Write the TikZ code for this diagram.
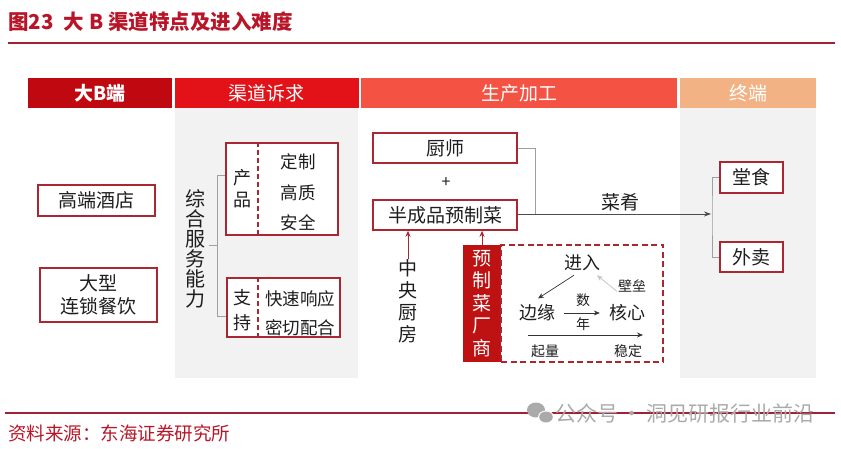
\documentclass[tikz,border=0pt]{standalone}
\usepackage{fontspec}
\setmainfont{Noto Sans CJK SC}
\usetikzlibrary{arrows.meta,calc}
\definecolor{hdrA}{RGB}{192,8,16}
\definecolor{hdrB}{RGB}{226,18,24}
\definecolor{hdrC}{RGB}{244,82,66}
\definecolor{hdrD}{RGB}{242,178,132}
\definecolor{boxred}{RGB}{170,38,48}
\definecolor{bggray}{RGB}{242,242,242}
\definecolor{titlered}{RGB}{184,22,40}
\definecolor{rulered}{RGB}{160,32,52}
\definecolor{makerred}{RGB}{190,18,18}
\definecolor{wmgray}{RGB}{170,170,170}
\definecolor{txt}{RGB}{30,30,30}
\newcommand{\fs}[1]{\fontsize{#1}{#1}\selectfont}
\tikzset{
  hdr/.style={minimum height=30pt, inner sep=0, text=white, font=\fs{19}},
  rbox/.style={draw=boxred, line width=1.6pt, fill=white, inner sep=0, text=txt, font=\fs{19}},
  vtext/.style={align=center, inner sep=0, text=txt, font=\fontsize{#1}{#1}\selectfont},
  gline/.style={draw=gray!75, line width=0.7pt},
  redarrow/.style={draw=boxred, line width=0.9pt, -{Stealth[length=6pt,width=5pt]}},
  blkarrow/.style={draw=black!80, line width=0.7pt, -{Stealth[length=6pt,width=5pt]}},
  lbl/.style={inner sep=1pt, text=txt, font=\fs{#1}}
}
\begin{document}
\begin{tikzpicture}[x=1pt,y=-1pt]
\useasboundingbox (0,0) rectangle (841,449);
% title
\node[anchor=west, inner sep=0, text=titlered, font=\bfseries\fs{20.5}] (title) at (8,22) {图23\hspace{0.5em}大 B 渠道特点及进入难度};
\draw[rulered, line width=1.6pt] (8,43) -- (835,43);
% column backgrounds
\fill[bggray] (175,108) rectangle (358,378);
\fill[bggray] (680,108) rectangle (816,378);
% headers
\node[hdr, fill=hdrA, minimum width=144pt, font=\bfseries\fs{19}] (h1) at (100,93) {大B端};
\node[hdr, fill=hdrB, minimum width=184pt] (h2) at (266.5,93) {渠道诉求};
\node[hdr, fill=hdrC, minimum width=316pt] (h3) at (519,93) {生产加工};
\node[hdr, fill=hdrD, minimum width=136pt] (h4) at (748,93) {终端};
% big B
\node[rbox, minimum width=117pt, minimum height=31pt] (hotel) at (96.5,200.5) {高端酒店};
\node[rbox, minimum width=117pt, minimum height=54pt, align=center, font=\fontsize{19}{23}\selectfont] (chain) at (98.5,295) {大型\\连锁餐饮};
% channel demands
\node[vtext=20] (zh) at (195,249) {综\\合\\服\\务\\能\\力};
\node[rbox, minimum width=112pt, minimum height=92pt] (prod) at (282,189) {};
\draw[boxred, line width=1.3pt, dash pattern=on 5pt off 3pt] (prod.north -| 258,0) -- (prod.south -| 258,0);
\node[vtext=22, font=\fontsize{18}{22}\selectfont] (prodt) at (242,189) {产\\品};
\node[lbl=17.5] (d1) at (298,162) {定制};
\node[lbl=17.5] (d2) at (298,193) {高质};
\node[lbl=17.5] (d3) at (298,223) {安全};
\node[rbox, minimum width=113pt, minimum height=59pt] (supp) at (283.5,307.5) {};
\draw[boxred, line width=1.3pt, dash pattern=on 5pt off 3pt] (supp.north -| 258,0) -- (supp.south -| 258,0);
\node[vtext=25, font=\fontsize{18}{25}\selectfont] (suppt) at (242,310) {支\\持};
\node[lbl=17.5] (s1) at (300,299) {快速响应};
\node[lbl=17.5] (s2) at (300,328) {密切配合};
\draw[gline] (zh.east) ++(4,-4) -- (217,245);
\draw[gline] (prod.west |- 0,175) -| (217,316) -- (supp.west |- 0,316);
% production
\node[rbox, minimum width=144pt, minimum height=30pt] (chef) at (445,148) {厨师};
\node[lbl=16] (plus) at (446,183) {+};
\node[rbox, minimum width=144pt, minimum height=30pt] (semi) at (445,215) {半成品预制菜};
\coordinate (split) at (712,214);
\draw[gline] (chef.east) -| (535,214);
\draw[gline, -{Stealth[length=7pt,width=5pt]}, draw=black!70] (semi.east |- split) -- ($(split)+(-1,0)$);
\node[lbl=19] (dish) at (620,202) {菜肴};
\node[vtext=22, font=\fontsize{19}{22}\selectfont] (cent) at (408,301) {中\\央\\厨\\房};
\draw[redarrow] (cent.north) -- (cent.north |- semi.south);
\node[fill=makerred, minimum width=38pt, minimum height=117pt, inner sep=0, align=center, text=white, font=\fontsize{19}{22.5}\selectfont] (maker) at (482,303.5) {预\\制\\菜\\厂\\商};
\draw[redarrow] (maker.north) -- (maker.north |- semi.south);
\node[draw=boxred, line width=1.6pt, dash pattern=on 6pt off 3.5pt, minimum width=162pt, minimum height=117pt, inner sep=0] (dbox) at (582,303.5) {};
\node[lbl=18] (jin) at (582,263) {进入};
\node[lbl=18] (by) at (537,313) {边缘};
\node[lbl=18] (core) at (627,313) {核心};
\node[lbl=14] (shu) at (583,300) {数};
\node[lbl=14] (nian) at (583,324) {年};
\node[lbl=14] (bl) at (632,286) {壁垒};
\node[lbl=14] (ql) at (545,351) {起量};
\node[lbl=14] (wd) at (628,351) {稳定};
\draw[blkarrow] ($(jin.south)+(-8,3)$) -- ($(by.north)+(1,-5)$);
\draw[draw=gray!45, line width=0.8pt, -{Stealth[length=6pt,width=5pt]}] ($(core.north)+(-10,-12)$) -- ($(jin.south)+(15,3)$);
\draw[blkarrow, shorten <=8pt, shorten >=8pt] (by.east) -- (core.west);
\coordinate (ls) at (528,335);
\coordinate (le) at (643,335);
\draw[blkarrow] (ls) -- (le);
% terminals
\node[rbox, minimum width=63pt, minimum height=31pt] (tang) at (751.5,177.5) {堂食};
\node[rbox, minimum width=63pt, minimum height=30pt] (wai) at (751.5,257) {外卖};
\draw[gline] (tang.west) -| (split) |- (wai.west);
% footer
\draw[rulered, line width=1.6pt] (5,413) -- (835,413);
\node[anchor=west, inner sep=0, text=titlered, font=\fs{18.5}] (src) at (8,433) {资料来源：东海证券研究所};
\fill[wmgray] (536,410) ellipse (9 and 7.5);
\fill[white] (546,417) ellipse (8 and 6.5);
\fill[wmgray] (546,417) ellipse (6.8 and 5.5);
\node[anchor=west, inner sep=0, text=wmgray, font=\fs{21}] (wm) at (555,413) {公众号\,·\,洞见研报行业前沿};
\end{tikzpicture}
\end{document}
